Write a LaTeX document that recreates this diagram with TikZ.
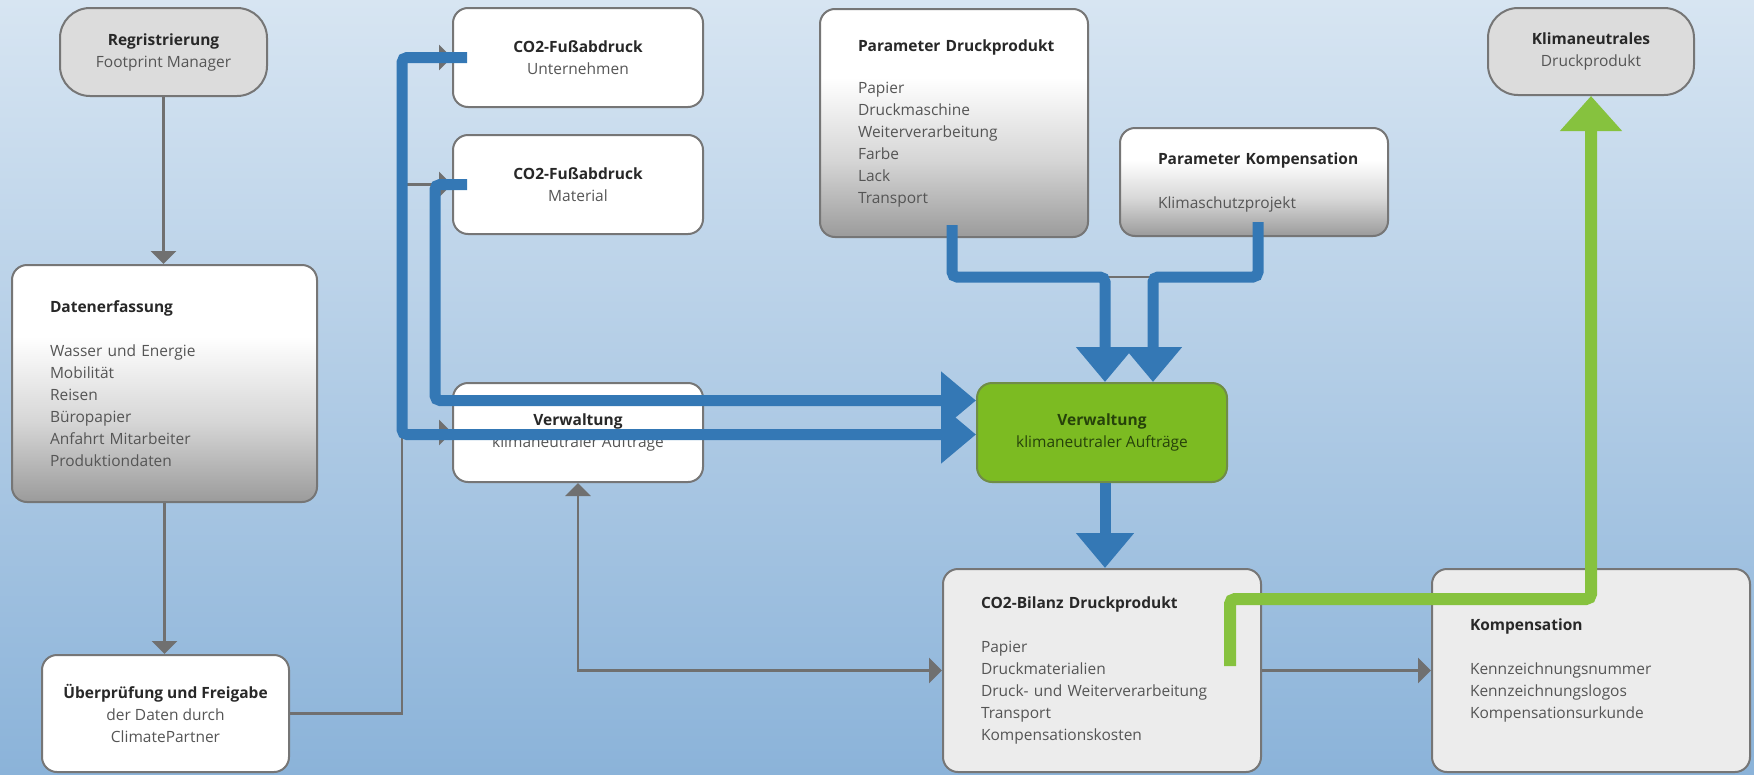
\documentclass[tikz,border=0pt]{standalone}
\usepackage{fontspec}
\setmainfont{Open Sans}
\usepackage{tikz}
\usetikzlibrary{arrows.meta,positioning}
\definecolor{bgTop}{RGB}{215,229,242}
\definecolor{bgBottom}{RGB}{139,179,217}
\definecolor{lineGray}{RGB}{112,112,112}
\definecolor{borderGray}{RGB}{118,118,118}
\definecolor{borderGreen}{RGB}{112,140,72}
\definecolor{pillGray}{RGB}{220,220,220}
\definecolor{paleGray}{RGB}{236,236,236}
\definecolor{fadeGray}{RGB}{155,155,155}
\definecolor{flowBlue}{RGB}{52,120,181}
\definecolor{flowGreen}{RGB}{134,194,62}
\definecolor{boxGreen}{RGB}{124,187,34}
\definecolor{titleText}{RGB}{40,40,40}
\definecolor{subText}{RGB}{85,85,85}
\definecolor{greenText}{RGB}{38,66,10}
\pgfdeclareverticalshading{paperFade}{100bp}{color(0bp)=(fadeGray); color(25bp)=(fadeGray); color(42bp)=(black!16); color(60bp)=(white); color(100bp)=(white)}
\tikzstyle{diagram} = [x = 1pt, y = -1pt, font=\fontsize{15.5}{22}\selectfont, text=subText]
\tikzstyle{boxStyle} = [draw=borderGray, line width=2pt, rounded corners=15pt, inner sep=0pt]
\tikzstyle{whiteBox} = [boxStyle, fill=white, align=center, minimum width=250pt, minimum height=99pt]
\tikzstyle{pillBox} = [boxStyle, fill=pillGray, rounded corners=30pt, align=center, minimum height=88pt]
\tikzstyle{fadeBox} = [boxStyle, shade, shading=paperFade, align=left, inner xsep=38pt]
\tikzstyle{paleBox} = [boxStyle, fill=paleGray, align=left, inner xsep=38pt]
\tikzstyle{greenBox} = [boxStyle, fill=boxGreen, draw=borderGreen, text=greenText, align=center, minimum width=250pt, minimum height=99pt]
\tikzstyle{flowLine} = [draw=lineGray, line width=2.5pt]
\tikzstyle{flowArrow} = [flowLine, -{Triangle[length=13pt, width=25pt]}]
\tikzstyle{flowBoth} = [flowLine, {Triangle[length=13pt, width=25pt]}-{Triangle[length=13pt, width=25pt]}]
\tikzstyle{blueArrow} = [draw=flowBlue, line width=11pt, rounded corners=5pt, -{Triangle[length=35pt, width=56pt]}]
\tikzstyle{greenArrow} = [draw=flowGreen, line width=12pt, rounded corners=5pt, -{Triangle[length=35pt, width=60pt]}]
\newcommand{\heading}[1]{{\color{titleText}\bfseries\mbox{#1}}}

\begin{document}
\begin{tikzpicture}[diagram]
  % background
  \shade[top color=bgTop, bottom color=bgBottom] (0,0) rectangle (1754,774);
  \useasboundingbox (0,0) rectangle (1754,774);

  % left column
  \node[pillBox, minimum width=207pt] (registrierung) at (163.5,52) {\heading{Regristrierung}\\ Footprint Manager};
  \node[fadeBox, text width=229pt, minimum height=237pt] (datenerfassung) at (164.5,383.5) {\heading{Datenerfassung}\\[22pt] Wasser und Energie\\ Mobilität\\ Reisen\\ Büropapier\\ Anfahrt Mitarbeiter\\ Produktiondaten};
  \node[whiteBox, minimum width=247pt, minimum height=117pt] (pruefung) at (165.5,713.5) {\heading{Überprüfung und Freigabe}\\ der Daten durch\\ ClimatePartner};

  % footprints
  \node[whiteBox] (co2Firma) at (578,57.5) {\heading{CO2-Fußabdruck}\\ Unternehmen};
  \node[whiteBox] (co2Material) at (578,184.5) {\heading{CO2-Fußabdruck}\\ Material};
  \node[whiteBox] (verwaltungAlt) at (578,432.5) {\heading{Verwaltung}\\ klimaneutraler Aufträge};

  % parameters
  \node[fadeBox, text width=192pt, minimum height=228pt] (paramDruck) at (954,123) {\heading{Parameter Druckprodukt}\\[20pt] Papier\\ Druckmaschine\\ Weiterverarbeitung\\ Farbe\\ Lack\\ Transport};
  \node[fadeBox, text width=192pt, minimum height=108pt] (paramKomp) at (1254,182) {\heading{Parameter Kompensation}\\[22pt] Klimaschutzprojekt};
  \node[pillBox, minimum width=206pt, minimum height=87pt] (klimaneutral) at (1591,51.5) {\heading{Klimaneutrales}\\ Druckprodukt};

  % results
  \node[greenBox] (verwaltung) at (1102,432.5) {\textbf{Verwaltung}\\ klimaneutraler Aufträge};
  \node[paleBox, text width=242pt, minimum height=203pt] (bilanz) at (1102,670.5) {\heading{CO2-Bilanz Druckprodukt}\\[22pt] Papier\\ Druckmaterialien\\ Druck- und Weiterverarbeitung\\ Transport\\ Kompensationskosten};
  \node[paleBox, text width=242pt, minimum height=203pt] (kompensation) at (1591,670.5) {\heading{Kompensation}\\[22pt] Kennzeichnungsnummer\\ Kennzeichnungslogos\\ Kompensationsurkunde};

  % gray connectors
  \coordinate (grayBus) at (402,0);
  \coordinate (paramJoin) at (1128,277);
  \draw[flowArrow] (registrierung.south) -- (registrierung.south |- datenerfassung.north);
  \draw[flowArrow] (datenerfassung.south) -- (datenerfassung.south |- pruefung.north);
  \draw[flowArrow] (pruefung.east) -| (grayBus |- co2Firma.west) -- (co2Firma.west);
  \draw[flowArrow] (grayBus |- co2Material.west) -- (co2Material.west);
  \draw[flowArrow] (grayBus |- verwaltungAlt.west) -- (verwaltungAlt.west);
  \draw[flowBoth] (verwaltungAlt.south) |- (bilanz.west);
  \draw[flowArrow] (bilanz.east) -- (kompensation.west);
  \draw[flowLine] (paramDruck.south) |- (paramJoin) -| (paramKomp.south);

  % blue flows
  \coordinate (blueOuter) at (402,0);
  \coordinate (blueInner) at (435,0);
  \coordinate (inLow) at ([yshift=-2pt]verwaltung.west);
  \coordinate (inHigh) at ([yshift=32pt]verwaltung.west);
  \coordinate (topLeft) at ([xshift=3pt]verwaltung.north);
  \coordinate (topRight) at ([xshift=51pt]verwaltung.north);
  \draw[blueArrow] ([xshift=15pt]co2Firma.west) -| (blueOuter |- inLow) -- (inLow);
  \draw[blueArrow] ([xshift=15pt]co2Material.west) -| (blueInner |- inHigh) -- (inHigh);
  \draw[blueArrow] ([xshift=-2pt, yshift=13pt]paramDruck.south) |- (topLeft |- paramJoin) -- (topLeft);
  \draw[blueArrow] ([xshift=4pt, yshift=15pt]paramKomp.south) |- (topRight |- paramJoin) -- (topRight);
  \draw[blueArrow] ([xshift=3pt]verwaltung.south) -- ([xshift=3pt]bilanz.north);

  % green flow
  \coordinate (greenStart) at (1230,666);
  \coordinate (greenTurn) at (0,599);
  \draw[greenArrow] (greenStart) |- (klimaneutral.south |- greenTurn) -- (klimaneutral.south);
\end{tikzpicture}
\end{document}
